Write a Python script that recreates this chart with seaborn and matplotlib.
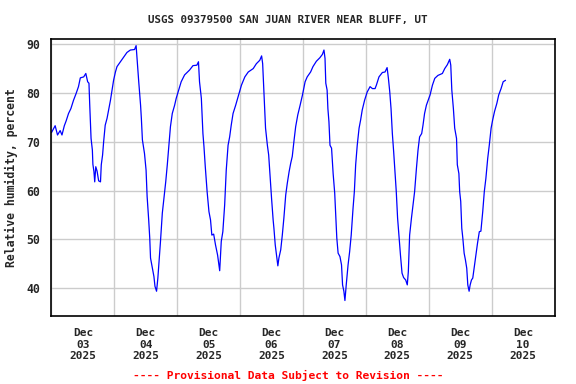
import pandas as pd
import numpy as np
import matplotlib
matplotlib.use("Agg")
import matplotlib.pyplot as plt
import matplotlib.dates as mdates
import seaborn as sns

# hours since 2025-12-03 00:00 and relative humidity (%)
hours = [0.0, 1.4, 2.3, 3.3, 4.0, 4.9, 5.6, 6.5, 7.4, 8.4, 9.4, 10.3, 11.0, 12.3, 13.1, 13.8, 14.3,
         14.6, 15.1, 15.6, 15.8, 16.2, 16.5, 16.9, 17.4, 18.0, 18.7, 19.0, 19.5, 19.9, 20.5, 21.2,
         21.8, 22.5, 23.1, 23.7, 24.4, 25.0, 26.3, 27.6, 28.8, 30.1, 31.7, 32.3, 32.7, 33.3, 34.0,
         34.3, 34.7, 35.5, 36.1, 36.5, 37.1, 37.5, 37.8, 38.4, 39.1, 39.5, 40.1, 40.6, 41.1, 41.6,
         42.3, 42.9, 43.6, 44.2, 44.8, 45.4, 46.1, 47.0, 47.6,
         49.5, 50.8, 52.7, 54.0, 55.5, 56.1, 56.5, 57.2, 57.8, 58.2, 58.7, 59.4, 60.1, 60.7, 61.2,
         61.9, 62.6, 63.4, 64.2, 64.8, 65.4, 66.1, 66.7, 67.4, 68.0, 68.6, 69.3, 70.3, 71.2, 72.5,
         73.8, 75.1, 77.0, 78.2, 79.5, 80.2, 80.6, 81.1, 81.7, 82.4, 82.9, 83.4, 84.0, 84.6, 84.9,
         85.4, 85.9, 86.4, 86.8, 87.5, 88.1, 88.7, 89.4, 90.0, 90.7, 91.3, 91.9, 92.6, 93.2, 94.0,
         94.9, 95.8,
         96.8, 97.6, 98.9, 99.8, 101.1, 102.4, 103.4, 104.0, 104.4, 104.7, 105.2, 105.5, 105.9,
         106.3, 106.9, 107.5, 108.1, 108.5, 108.9, 109.4, 110.1, 110.7, 111.1, 111.6, 112.0, 112.5,
         113.2, 113.8, 114.4, 115.1, 115.6, 116.1, 116.7, 117.4, 118.0, 118.6, 119.5, 120.5, 121.6,
         122.5, 123.5, 124.0, 125.0, 126.3, 127.3, 128.1, 128.6, 129.1, 129.6, 130.1, 130.6, 131.1,
         131.6, 132.1, 132.7, 133.2, 133.8, 134.4, 135.2, 135.8, 136.2, 136.7, 137.4, 138.0, 138.6,
         139.3, 139.9, 140.5, 141.3, 141.8, 142.4, 143.1,
         144.5, 145.4, 146.3, 147.5, 149.2, 150.1, 151.1, 152.0, 152.4, 152.8, 153.4, 153.9, 154.6,
         154.9, 155.5, 155.8, 156.2, 156.6, 157.0, 157.5, 158.0, 158.5, 158.9, 159.4, 159.8, 160.3,
         160.8, 161.3, 162.0, 162.6, 163.3, 163.9, 164.6, 165.2, 165.8, 166.5, 167.1, 167.8, 168.4,
         169.1, 170.0, 170.7, 171.6, 172.4, 173.3]
humidity = [71.9, 73.3, 71.4, 72.3, 71.4, 73.3, 74.3, 75.8, 76.8, 78.5, 79.9, 81.3, 83.1, 83.3, 84.0, 82.3, 82.0,
            77.5, 70.7, 68.3, 65.4, 63.9, 61.8, 64.9, 64.0, 62.0, 61.8, 65.3, 67.3, 70.0, 73.4, 74.8,
            76.5, 78.5, 80.6, 82.6, 84.3, 85.4, 86.4, 87.4, 88.3, 88.8, 88.9, 89.7, 86.7, 82.3, 77.5,
            74.8, 70.4, 67.6, 64.2, 58.8, 54.0, 50.3, 46.2, 44.5, 42.4, 40.4, 39.4, 42.1, 45.8, 49.6,
            55.4, 58.4, 61.8, 65.3, 69.3, 73.1, 75.8, 77.5, 78.9,
            82.3, 83.7, 84.7, 85.6, 85.7, 86.4, 82.3, 78.9, 71.7, 69.0, 64.9, 59.8, 55.7, 54.0, 50.9,
            51.1, 48.9, 46.8, 43.6, 49.6, 51.6, 57.1, 64.2, 69.3, 71.0, 73.4, 75.8, 77.5, 79.2, 81.6,
            83.3, 84.3, 85.0, 86.0, 86.7, 87.6, 86.0, 79.9, 72.8, 69.3, 67.3, 63.2, 58.4, 54.0, 52.3,
            48.9, 46.8, 44.6, 46.2, 47.9, 50.9, 54.4, 59.1, 61.5, 63.9, 65.6, 67.0, 70.4, 73.1, 75.5,
            77.5, 79.6,
            82.3, 83.3, 84.3, 85.4, 86.5, 87.2, 87.9, 88.8, 87.1, 82.0, 80.6, 76.8, 74.1,
            69.3, 68.7, 63.5, 59.5, 55.0, 50.3, 47.2, 46.5, 44.8, 40.7, 39.4, 37.5, 40.7,
            44.8, 47.5, 50.9, 56.4, 59.8, 65.3, 69.3, 72.8, 74.5, 76.5, 78.5, 80.2, 81.3,
            80.9, 80.9, 81.6, 83.3, 84.2, 84.3, 85.2, 83.0, 80.3, 76.8, 71.7, 68.0, 63.9,
            59.8, 54.4, 50.3, 46.8, 43.1, 42.2, 41.7, 40.7, 43.4, 50.9, 54.4, 57.1, 59.8,
            64.6, 68.3, 71.0, 71.7, 73.4, 75.8, 77.5,
            79.6, 81.6, 83.0, 83.6, 84.0, 85.0, 85.8, 86.9, 85.7, 80.6, 76.8, 72.8, 70.7,
            65.3, 63.5, 59.8, 57.8, 52.3, 50.3, 47.2, 45.8, 44.1, 40.7, 39.4, 40.7, 41.7,
            42.1, 44.1, 46.8, 49.2, 51.6, 51.7, 55.7, 59.8, 62.5, 66.6, 69.3, 72.8, 74.5,
            76.2, 77.9, 79.6, 80.9, 82.3, 82.6]

start = pd.Timestamp("2025-12-03 00:00")
df = pd.DataFrame({"time": start + pd.to_timedelta(hours, unit="h"), "rh": humidity})

sns.set_style("white")
plt.rcParams["font.family"] = ["DejaVu Sans Mono"]
plt.rcParams["font.weight"] = "bold"

fig = plt.figure(figsize=(5.76, 3.84), dpi=100)
ax = fig.add_axes([0.0894, 0.178, 0.8733, 0.7197])

sns.lineplot(data=df, x="time", y="rh", ax=ax, color="#0000ff", linewidth=0.9)

ax.set_xlim(start, start + pd.Timedelta(days=8))
ax.set_ylim(34.4, 91)
ax.set_yticks([40, 50, 60, 70, 80, 90])

ax.xaxis.set_major_locator(mdates.DayLocator())
ax.xaxis.set_major_formatter(plt.NullFormatter())
ax.xaxis.set_minor_locator(mdates.HourLocator(byhour=[12]))
ax.xaxis.set_minor_formatter(mdates.DateFormatter("%b\n%d\n%Y"))

ax.grid(True, which="major", color="#cccccc", linewidth=1)
ax.tick_params(which="both", length=0)
ax.tick_params(axis="x", which="minor", labelsize=8, pad=9)
ax.tick_params(axis="y", labelsize=8.3, pad=8)
for lab in ax.get_xticklabels(minor=True) + ax.get_yticklabels():
    lab.set_fontweight("bold")

for s in ax.spines.values():
    s.set_color("black")
    s.set_linewidth(1.2)

ax.set_xlabel("")
ax.set_ylabel("Relative humidity, percent", fontsize=8.3, fontweight="bold", labelpad=6)

fig.text(0.5, 0.948, "USGS 09379500 SAN JUAN RIVER NEAR BLUFF, UT", ha="center", va="center",
         fontsize=7.8, fontweight="bold")
fig.text(0.5, 0.023, "---- Provisional Data Subject to Revision ----", ha="center", va="center",
         fontsize=8.1, fontweight="bold", color="red")

fig.savefig("out.png", dpi=100)
